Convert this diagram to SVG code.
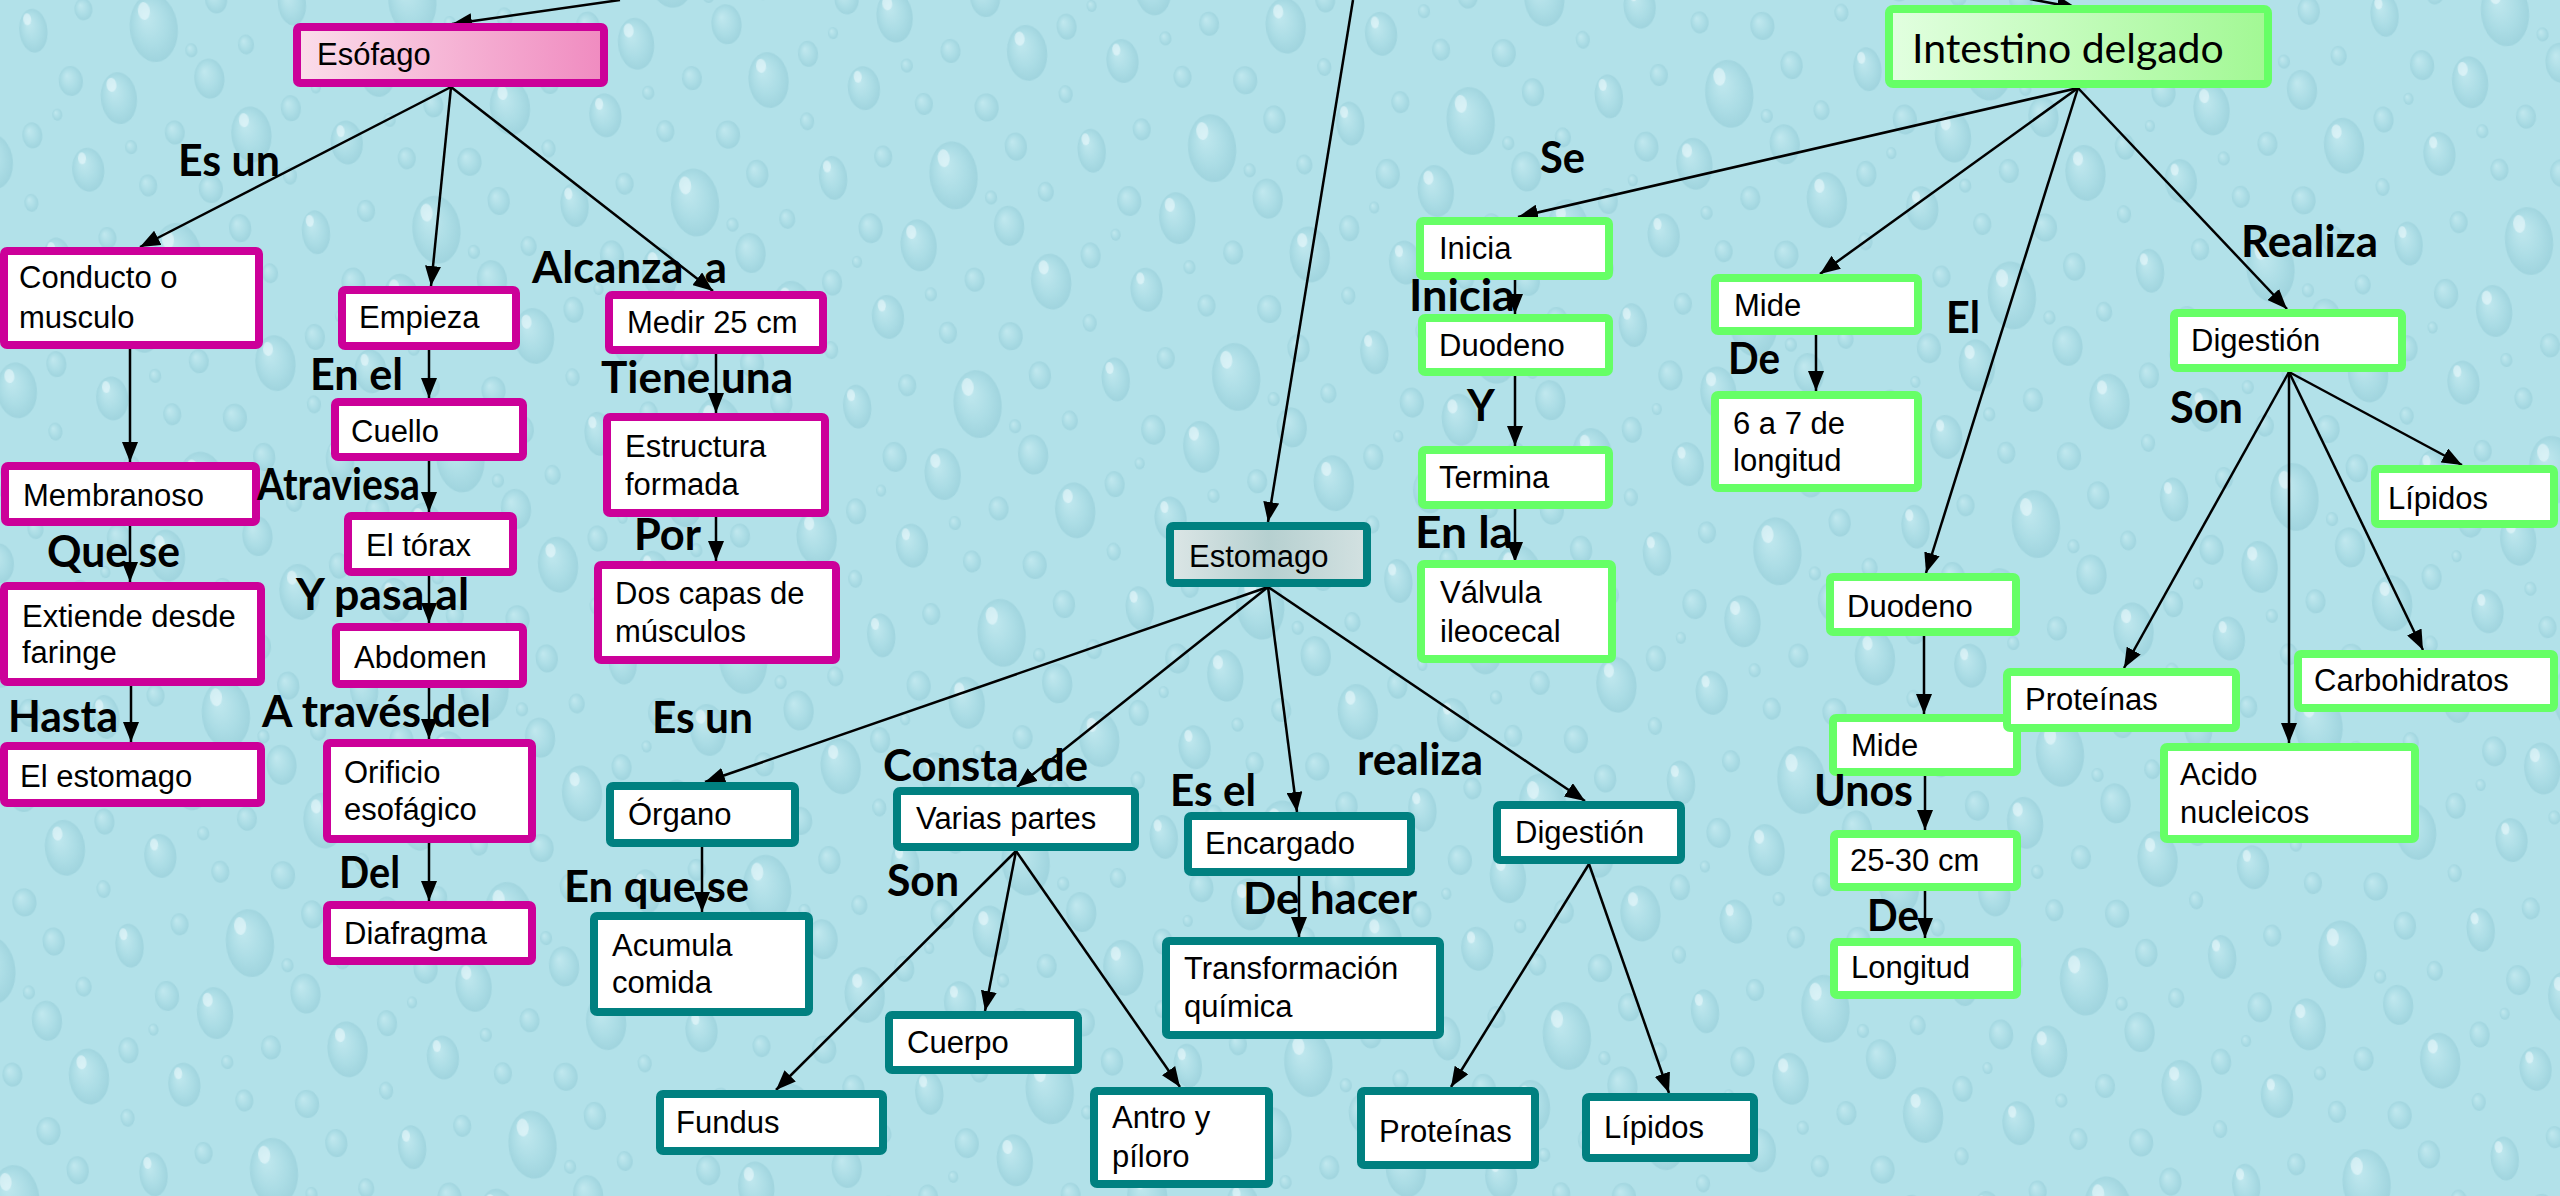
<svg xmlns="http://www.w3.org/2000/svg" width="2560" height="1196" viewBox="0 0 2560 1196">
<defs>
<style>
.bm{fill:#fff;stroke:#CC0099;stroke-width:8}
.bt{fill:#fff;stroke:#008080;stroke-width:8}
.bg{fill:#fff;stroke:#66FF66;stroke-width:8}
.t{font-family:"Liberation Sans",Arial,sans-serif;font-size:31px;fill:#000}
.l{font-family:Lato,"Liberation Sans",sans-serif;font-weight:bold;font-size:43px;fill:#000}
.c{stroke:#000;stroke-width:2.5;fill:none;marker-end:url(#ah)}
.d{fill:url(#drop);opacity:0.55}
.h{fill:#EAF9FB;opacity:0.6}
</style>
<marker id="ah" markerUnits="userSpaceOnUse" markerWidth="20" markerHeight="16" refX="20" refY="8" orient="auto">
<path d="M0,0 L20,8 L0,16 z" fill="#000"/>
</marker>
<linearGradient id="gEso" x1="0" y1="0" x2="1" y2="0">
<stop offset="0" stop-color="#FBDDEA"/><stop offset="1" stop-color="#F08BC0"/>
</linearGradient>
<linearGradient id="gEst" x1="0" y1="0" x2="1" y2="0">
<stop offset="0" stop-color="#DCE6E6"/><stop offset="0.5" stop-color="#B6D0D0"/><stop offset="1" stop-color="#D3E1E1"/>
</linearGradient>
<linearGradient id="gInt" x1="0" y1="0" x2="1" y2="0">
<stop offset="0" stop-color="#E2FFE0"/><stop offset="1" stop-color="#A2F894"/>
</linearGradient>
<radialGradient id="drop" cx="0.5" cy="0.5" r="0.55" fx="0.35" fy="0.3">
<stop offset="0" stop-color="#CDEEF3"/><stop offset="0.6" stop-color="#A6D9E2"/><stop offset="1" stop-color="#8CC6D2"/>
</radialGradient>
<pattern id="bgp" patternUnits="userSpaceOnUse" width="260" height="230" patternTransform="rotate(-6)">
<rect width="260" height="230" fill="#B2E1E9"/>
<ellipse class="d" cx="30" cy="34" rx="14" ry="22"/><ellipse class="h" cx="25" cy="22" rx="4" ry="6"/>
<ellipse class="d" cx="82" cy="18" rx="9" ry="11"/>
<ellipse class="d" cx="150" cy="44" rx="24" ry="34"/><ellipse class="h" cx="142" cy="26" rx="6" ry="9"/>
<ellipse class="d" cx="215" cy="22" rx="11" ry="14"/>
<ellipse class="d" cx="62" cy="88" rx="12" ry="15"/>
<ellipse class="d" cx="108" cy="110" rx="18" ry="26"/><ellipse class="h" cx="102" cy="96" rx="5" ry="7"/>
<ellipse class="d" cx="200" cy="100" rx="15" ry="20"/>
<ellipse class="d" cx="240" cy="70" rx="8" ry="10"/>
<ellipse class="d" cx="18" cy="138" rx="10" ry="13"/>
<ellipse class="d" cx="160" cy="150" rx="10" ry="12"/>
<ellipse class="d" cx="236" cy="160" rx="20" ry="28"/><ellipse class="h" cx="230" cy="145" rx="5" ry="7"/>
<ellipse class="d" cx="70" cy="178" rx="16" ry="22"/><ellipse class="h" cx="65" cy="166" rx="4" ry="6"/>
<ellipse class="d" cx="128" cy="200" rx="9" ry="11"/>
<ellipse class="d" cx="190" cy="210" rx="12" ry="14"/>
<ellipse class="d" cx="10" cy="205" rx="7" ry="9"/>
<ellipse class="d" cx="115" cy="160" rx="6" ry="7"/>
<ellipse class="d" cx="45" cy="120" rx="5" ry="6"/>
<ellipse class="d" cx="185" cy="70" rx="6" ry="7"/>
</pattern>
</defs>
<rect width="2560" height="1196" fill="url(#bgp)"/>

<g id="connectors">
<line class="c" x1="620" y1="0" x2="452" y2="24"/>
<line class="c" x1="1353" y1="0" x2="1268" y2="522"/>
<line class="c" x1="2030" y1="-1" x2="2077" y2="8"/>
<line class="c" x1="451" y1="87" x2="140" y2="247"/>
<line class="c" x1="451" y1="87" x2="431" y2="286"/>
<line class="c" x1="451" y1="87" x2="713" y2="291"/>
<line class="c" x1="130" y1="349" x2="130" y2="462"/>
<line class="c" x1="130" y1="526" x2="130" y2="582"/>
<line class="c" x1="131" y1="686" x2="131" y2="742"/>
<line class="c" x1="429" y1="350" x2="429" y2="398"/>
<line class="c" x1="429" y1="461" x2="429" y2="512"/>
<line class="c" x1="429" y1="576" x2="429" y2="623"/>
<line class="c" x1="429" y1="688" x2="429" y2="739"/>
<line class="c" x1="429" y1="843" x2="429" y2="901"/>
<line class="c" x1="716" y1="354" x2="716" y2="413"/>
<line class="c" x1="716" y1="517" x2="716" y2="561"/>
<line class="c" x1="1268" y1="587" x2="705" y2="782"/>
<line class="c" x1="1268" y1="587" x2="1017" y2="787"/>
<line class="c" x1="1268" y1="587" x2="1297" y2="812"/>
<line class="c" x1="1268" y1="587" x2="1585" y2="801"/>
<line class="c" x1="702" y1="847" x2="702" y2="912"/>
<line class="c" x1="1016" y1="851" x2="776" y2="1090"/>
<line class="c" x1="1016" y1="851" x2="985" y2="1011"/>
<line class="c" x1="1016" y1="851" x2="1180" y2="1087"/>
<line class="c" x1="1299" y1="876" x2="1299" y2="937"/>
<line class="c" x1="1589" y1="864" x2="1451" y2="1087"/>
<line class="c" x1="1589" y1="864" x2="1669" y2="1093"/>
<line class="c" x1="2078" y1="88" x2="1518" y2="217"/>
<line class="c" x1="2078" y1="88" x2="1820" y2="274"/>
<line class="c" x1="2078" y1="88" x2="1926" y2="573"/>
<line class="c" x1="2078" y1="88" x2="2287" y2="309"/>
<line class="c" x1="1515" y1="280" x2="1515" y2="314"/>
<line class="c" x1="1515" y1="376" x2="1515" y2="446"/>
<line class="c" x1="1515" y1="509" x2="1515" y2="562"/>
<line class="c" x1="1816" y1="335" x2="1816" y2="391"/>
<line class="c" x1="2289" y1="372" x2="2462" y2="465"/>
<line class="c" x1="2289" y1="372" x2="2124" y2="668"/>
<line class="c" x1="2289" y1="372" x2="2289" y2="743"/>
<line class="c" x1="2289" y1="372" x2="2423" y2="650"/>
<line class="c" x1="1924" y1="636" x2="1924" y2="714"/>
<line class="c" x1="1925" y1="776" x2="1925" y2="830"/>
<line class="c" x1="1925" y1="891" x2="1925" y2="938"/>
</g>

<g id="n-esofago"><rect x="297" y="27" width="307" height="56" rx="3" class="bm" style="fill:url(#gEso)"/><text class="t" x="317" y="65">Esófago</text></g>
<g id="n-conducto"><rect x="4" y="251" width="255" height="94" rx="3" class="bm"/><text class="t" x="19" y="288">Conducto o</text><text class="t" x="19" y="328">musculo</text></g>
<g id="n-empieza"><rect x="342" y="290" width="174" height="56" rx="3" class="bm"/><text class="t" x="359" y="328">Empieza</text></g>
<g id="n-medir"><rect x="609" y="295" width="214" height="55" rx="3" class="bm"/><text class="t" x="627" y="333">Medir 25 cm</text></g>
<g id="n-cuello"><rect x="335" y="402" width="188" height="55" rx="3" class="bm"/><text class="t" x="351" y="442">Cuello</text></g>
<g id="n-estructura"><rect x="607" y="417" width="218" height="96" rx="3" class="bm"/><text class="t" x="625" y="457">Estructura</text><text class="t" x="625" y="495">formada</text></g>
<g id="n-membranoso"><rect x="5" y="466" width="251" height="56" rx="3" class="bm"/><text class="t" x="23" y="506">Membranoso</text></g>
<g id="n-torax"><rect x="348" y="516" width="165" height="56" rx="3" class="bm"/><text class="t" x="366" y="556">El tórax</text></g>
<g id="n-doscapas"><rect x="598" y="565" width="238" height="95" rx="3" class="bm"/><text class="t" x="615" y="604">Dos capas de</text><text class="t" x="615" y="642">músculos</text></g>
<g id="n-extiende"><rect x="4" y="586" width="257" height="96" rx="3" class="bm"/><text class="t" x="22" y="627">Extiende desde</text><text class="t" x="22" y="663">faringe</text></g>
<g id="n-abdomen"><rect x="336" y="627" width="187" height="57" rx="3" class="bm"/><text class="t" x="354" y="668">Abdomen</text></g>
<g id="n-elestomago"><rect x="4" y="746" width="257" height="57" rx="3" class="bm"/><text class="t" x="20" y="787">El estomago</text></g>
<g id="n-orificio"><rect x="327" y="743" width="205" height="96" rx="3" class="bm"/><text class="t" x="344" y="783">Orificio</text><text class="t" x="344" y="820">esofágico</text></g>
<g id="n-diafragma"><rect x="327" y="905" width="205" height="56" rx="3" class="bm"/><text class="t" x="344" y="944">Diafragma</text></g>

<g id="n-estomago"><rect x="1170" y="526" width="197" height="57" rx="3" class="bt" style="fill:url(#gEst)"/><text class="t" x="1189" y="567">Estomago</text></g>
<g id="n-organo"><rect x="610" y="786" width="185" height="57" rx="3" class="bt"/><text class="t" x="628" y="825">Órgano</text></g>
<g id="n-acumula"><rect x="594" y="916" width="215" height="96" rx="3" class="bt"/><text class="t" x="612" y="956">Acumula</text><text class="t" x="612" y="993">comida</text></g>
<g id="n-varias"><rect x="897" y="791" width="238" height="56" rx="3" class="bt"/><text class="t" x="916" y="829">Varias partes</text></g>
<g id="n-encargado"><rect x="1188" y="816" width="223" height="56" rx="3" class="bt"/><text class="t" x="1205" y="854">Encargado</text></g>
<g id="n-digestion1"><rect x="1497" y="805" width="184" height="55" rx="3" class="bt"/><text class="t" x="1515" y="843">Digestión</text></g>
<g id="n-transformacion"><rect x="1166" y="941" width="274" height="94" rx="3" class="bt"/><text class="t" x="1184" y="979">Transformación</text><text class="t" x="1184" y="1017">química</text></g>
<g id="n-cuerpo"><rect x="889" y="1015" width="189" height="55" rx="3" class="bt"/><text class="t" x="907" y="1053">Cuerpo</text></g>
<g id="n-fundus"><rect x="660" y="1094" width="223" height="57" rx="3" class="bt"/><text class="t" x="676" y="1133">Fundus</text></g>
<g id="n-antro"><rect x="1094" y="1091" width="175" height="93" rx="3" class="bt"/><text class="t" x="1112" y="1128">Antro y</text><text class="t" x="1112" y="1167">píloro</text></g>
<g id="n-proteinas1"><rect x="1361" y="1091" width="174" height="74" rx="3" class="bt"/><text class="t" x="1379" y="1142">Proteínas</text></g>
<g id="n-lipidos1"><rect x="1586" y="1097" width="168" height="61" rx="3" class="bt"/><text class="t" x="1604" y="1138">Lípidos</text></g>

<g id="n-intestino"><rect x="1889" y="9" width="379" height="75" rx="4" class="bg" style="fill:url(#gInt)"/><text x="1912" y="63" style="font-family:Lato,'Liberation Sans',sans-serif;font-size:41px;fill:#000">Intestino delgado</text></g>
<g id="n-inicia"><rect x="1420" y="221" width="189" height="55" rx="3" class="bg"/><text class="t" x="1439" y="259">Inicia</text></g>
<g id="n-duodeno1"><rect x="1422" y="318" width="187" height="54" rx="3" class="bg"/><text class="t" x="1439" y="356">Duodeno</text></g>
<g id="n-termina"><rect x="1422" y="450" width="187" height="55" rx="3" class="bg"/><text class="t" x="1439" y="488">Termina</text></g>
<g id="n-valvula"><rect x="1421" y="564" width="191" height="95" rx="3" class="bg"/><text class="t" x="1440" y="603">Válvula</text><text class="t" x="1440" y="642">ileocecal</text></g>
<g id="n-mide1"><rect x="1715" y="278" width="203" height="53" rx="3" class="bg"/><text class="t" x="1734" y="316">Mide</text></g>
<g id="n-seisasiete"><rect x="1715" y="395" width="203" height="93" rx="3" class="bg"/><text class="t" x="1733" y="434">6 a 7 de</text><text class="t" x="1733" y="471">longitud</text></g>
<g id="n-digestion2"><rect x="2174" y="313" width="228" height="55" rx="3" class="bg"/><text class="t" x="2191" y="351">Digestión</text></g>
<g id="n-lipidos2"><rect x="2375" y="469" width="179" height="55" rx="3" class="bg"/><text class="t" x="2388" y="509">Lípidos</text></g>
<g id="n-duodeno2"><rect x="1830" y="577" width="186" height="55" rx="3" class="bg"/><text class="t" x="1847" y="617">Duodeno</text></g>
<g id="n-mide2"><rect x="1833" y="718" width="184" height="54" rx="3" class="bg"/><text class="t" x="1851" y="756">Mide</text></g>
<g id="n-proteinas2"><rect x="2007" y="672" width="229" height="56" rx="3" class="bg"/><text class="t" x="2025" y="710">Proteínas</text></g>
<g id="n-carbohidratos"><rect x="2298" y="654" width="256" height="54" rx="3" class="bg"/><text class="t" x="2314" y="691">Carbohidratos</text></g>
<g id="n-acido"><rect x="2164" y="747" width="251" height="92" rx="3" class="bg"/><text class="t" x="2180" y="785">Acido</text><text class="t" x="2180" y="823">nucleicos</text></g>
<g id="n-veinticinco"><rect x="1834" y="834" width="183" height="53" rx="3" class="bg"/><text class="t" x="1850" y="871">25-30 cm</text></g>
<g id="n-longitud"><rect x="1834" y="942" width="183" height="53" rx="3" class="bg"/><text class="t" x="1851" y="978">Longitud</text></g>

<g id="labels">
<text class="l" x="178" y="176" textLength="102" lengthAdjust="spacingAndGlyphs">Es un</text>
<text class="l" x="532" y="283" textLength="195" lengthAdjust="spacingAndGlyphs" xml:space="preserve">Alcanza  a</text>
<text class="l" x="310" y="390" textLength="93" lengthAdjust="spacingAndGlyphs">En el</text>
<text class="l" x="601" y="393" textLength="192" lengthAdjust="spacingAndGlyphs">Tiene una</text>
<text class="l" x="257" y="500" textLength="163" lengthAdjust="spacingAndGlyphs">Atraviesa</text>
<text class="l" x="47" y="567" textLength="133" lengthAdjust="spacingAndGlyphs">Que se</text>
<text class="l" x="296" y="610" textLength="173" lengthAdjust="spacingAndGlyphs">Y pasa al</text>
<text class="l" x="634" y="550" textLength="67" lengthAdjust="spacingAndGlyphs">Por</text>
<text class="l" x="8" y="732" textLength="110" lengthAdjust="spacingAndGlyphs">Hasta</text>
<text class="l" x="262" y="727" textLength="229" lengthAdjust="spacingAndGlyphs">A través del</text>
<text class="l" x="652" y="733" textLength="101" lengthAdjust="spacingAndGlyphs">Es un</text>
<text class="l" x="339" y="888" textLength="61" lengthAdjust="spacingAndGlyphs">Del</text>
<text class="l" x="564" y="902" textLength="185" lengthAdjust="spacingAndGlyphs">En que se</text>
<text class="l" x="883" y="781" textLength="205" lengthAdjust="spacingAndGlyphs" xml:space="preserve">Consta  de</text>
<text class="l" x="887" y="896" textLength="72" lengthAdjust="spacingAndGlyphs">Son</text>
<text class="l" x="1170" y="806" textLength="86" lengthAdjust="spacingAndGlyphs">Es el</text>
<text class="l" x="1357" y="775" textLength="126" lengthAdjust="spacingAndGlyphs">realiza</text>
<text class="l" x="1243" y="914" textLength="174" lengthAdjust="spacingAndGlyphs">De hacer</text>
<text class="l" x="1415" y="548" textLength="98" lengthAdjust="spacingAndGlyphs">En la</text>
<text class="l" x="1540" y="173" textLength="45" lengthAdjust="spacingAndGlyphs">Se</text>
<text class="l" x="1409" y="311" textLength="106" lengthAdjust="spacingAndGlyphs">Inicia</text>
<text class="l" x="1467" y="421">Y</text>
<text class="l" x="1728" y="374" textLength="52" lengthAdjust="spacingAndGlyphs">De</text>
<text class="l" x="1946" y="333" textLength="34" lengthAdjust="spacingAndGlyphs">El</text>
<text class="l" x="2241" y="257" textLength="137" lengthAdjust="spacingAndGlyphs">Realiza</text>
<text class="l" x="2170" y="423" textLength="73" lengthAdjust="spacingAndGlyphs">Son</text>
<text class="l" x="1814" y="806" textLength="99" lengthAdjust="spacingAndGlyphs">Unos</text>
<text class="l" x="1867" y="931" textLength="52" lengthAdjust="spacingAndGlyphs">De</text>
</g>
</svg>
